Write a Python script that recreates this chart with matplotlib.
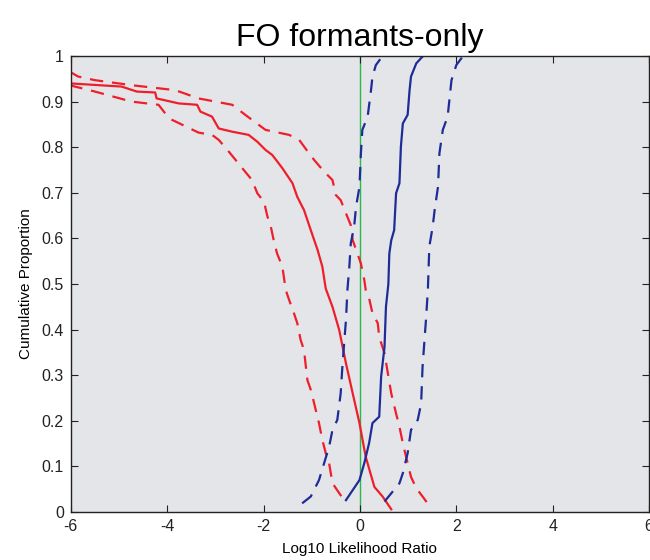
import matplotlib.pyplot as plt

plt.rcParams.update({
    "font.family": "Liberation Sans",
    "font.size": 11,
    "axes.unicode_minus": False,
})

# different-speaker comparisons (red): median and bounds
red_mid_x = [-6.03, -4.95, -4.63, -4.25, -4.22, -3.76, -3.38, -3.31, -3.07, -2.93, -2.65, -2.31,
             -2.13, -1.96, -1.82, -1.61, -1.40, -1.30, -1.16, -1.02, -0.88, -0.78, -0.71, -0.57,
             -0.43, -0.29, -0.15, -0.01, 0.12, 0.30, 0.47, 0.65]
red_mid_y = [0.940, 0.933, 0.922, 0.920, 0.907, 0.896, 0.893, 0.878, 0.867, 0.841, 0.834, 0.827,
             0.812, 0.794, 0.783, 0.754, 0.721, 0.691, 0.662, 0.618, 0.575, 0.538, 0.490, 0.450,
             0.399, 0.326, 0.260, 0.195, 0.121, 0.055, 0.034, 0.006]

red_hi_x = [-6.03, -5.85, -5.5, -4.74, -3.83, -3.35, -2.65, -2.38, -2.24, -1.96, -1.47, -1.26,
            -1.06, -0.95, -0.74, -0.57, -0.50, -0.40, -0.29, -0.19, -0.15, -0.08, 0.02, 0.09,
            0.12, 0.19, 0.26, 0.37, 0.40, 0.51, 0.58, 0.65, 0.75, 0.82, 0.89, 0.99, 1.06, 1.17,
            1.30, 1.48]
red_hi_y = [0.966, 0.955, 0.947, 0.936, 0.925, 0.907, 0.893, 0.871, 0.860, 0.838, 0.827, 0.816,
            0.787, 0.772, 0.746, 0.728, 0.695, 0.684, 0.655, 0.629, 0.596, 0.575, 0.545, 0.509,
            0.487, 0.469, 0.436, 0.414, 0.384, 0.348, 0.304, 0.260, 0.216, 0.187, 0.151, 0.107,
            0.077, 0.052, 0.034, 0.008]

red_lo_x = [-6.03, -5.5, -4.74, -4.18, -4.04, -3.90, -3.35, -3.07, -2.93, -2.72, -2.58, -2.38,
            -2.24, -2.13, -1.99, -1.92, -1.85, -1.79, -1.72, -1.61, -1.58, -1.54, -1.47, -1.37,
            -1.30, -1.23, -1.16, -1.13, -1.09, -1.02, -0.95, -0.85, -0.78, -0.71, -0.64, -0.57,
            -0.33]
red_lo_y = [0.936, 0.922, 0.900, 0.893, 0.874, 0.860, 0.832, 0.827, 0.816, 0.790, 0.772, 0.746,
            0.728, 0.699, 0.680, 0.648, 0.626, 0.596, 0.567, 0.538, 0.516, 0.487, 0.465, 0.436,
            0.414, 0.377, 0.355, 0.326, 0.289, 0.268, 0.238, 0.195, 0.158, 0.129, 0.107, 0.063,
            0.026]

# same-speaker comparisons (blue): median and bounds
blue_mid_x = [-0.29, -0.15, -0.01, 0.09, 0.19, 0.26, 0.40, 0.44, 0.51, 0.54, 0.59,
              0.61, 0.65, 0.71, 0.75, 0.82, 0.85, 0.89, 0.99, 1.03, 1.06, 1.17, 1.31]
blue_mid_y = [0.026, 0.048, 0.070, 0.107, 0.151, 0.195, 0.209, 0.297, 0.362, 0.450, 0.500,
              0.567, 0.596, 0.618, 0.699, 0.721, 0.801, 0.852, 0.871, 0.925, 0.955, 0.984, 1.0]

blue_lo_x = [-1.20, -1.02, -0.85, -0.64, -0.57, -0.47, -0.40, -0.36, -0.29, -0.26, -0.22, -0.19,
             -0.12, -0.08, -0.01, 0.02, 0.05, 0.16, 0.23, 0.26, 0.33, 0.47]
blue_lo_y = [0.019, 0.034, 0.070, 0.143, 0.180, 0.202, 0.260, 0.326, 0.421, 0.487, 0.538, 0.589,
             0.626, 0.670, 0.713, 0.787, 0.838, 0.867, 0.925, 0.955, 0.980, 1.0]

blue_hi_x = [0.51, 0.65, 0.82, 0.89, 0.99, 1.06, 1.20, 1.27, 1.30, 1.37, 1.41, 1.44, 1.51, 1.55,
             1.62, 1.65, 1.72, 1.82, 1.90, 2.00, 2.14]
blue_hi_y = [0.023, 0.041, 0.063, 0.085, 0.129, 0.180, 0.202, 0.238, 0.319, 0.421, 0.487, 0.582,
             0.626, 0.662, 0.713, 0.787, 0.838, 0.867, 0.947, 0.980, 1.0]

RED = "#ee1f2b"
BLUE = "#1e2c98"
DASH = (0, (6, 4))

fig = plt.figure(figsize=(6.5, 5.6), dpi=100)
ax = fig.add_axes([0.109, 0.0857, 0.8895, 0.8143])
ax.set_facecolor("#e4e5e8")

ax.axvline(0, color="#2ab84a", lw=1.0, zorder=1)

ax.plot(red_mid_x, red_mid_y, color=RED, lw=1.6)
ax.plot(red_hi_x, red_hi_y, color=RED, lw=1.6, linestyle=DASH)
ax.plot(red_lo_x, red_lo_y, color=RED, lw=1.6, linestyle=DASH)
ax.plot(blue_mid_x, blue_mid_y, color=BLUE, lw=1.6)
ax.plot(blue_lo_x, blue_lo_y, color=BLUE, lw=1.6, linestyle=DASH)
ax.plot(blue_hi_x, blue_hi_y, color=BLUE, lw=1.6, linestyle=DASH)

ax.set_xlim(-6, 6)
ax.set_ylim(0, 1)
ax.set_xticks(range(-6, 7, 2))
ax.set_yticks([i / 10 for i in range(11)])
ax.set_yticklabels(["0", "0.1", "0.2", "0.3", "0.4", "0.5", "0.6", "0.7", "0.8", "0.9", "1"])
ax.tick_params(direction="in", top=True, right=True, length=5, width=0.8, labelsize=11.5,
               colors="#222222", pad=5)
for s in ax.spines.values():
    s.set_linewidth(1.0)
    s.set_color("#222222")

ax.set_title("FO formants-only", fontsize=23, pad=7)
ax.set_xlabel("Log10 Likelihood Ratio", fontsize=11, labelpad=6)
ax.set_ylabel("Cumulative Proportion", fontsize=11, labelpad=6)

fig.savefig("out.png", dpi=100)
